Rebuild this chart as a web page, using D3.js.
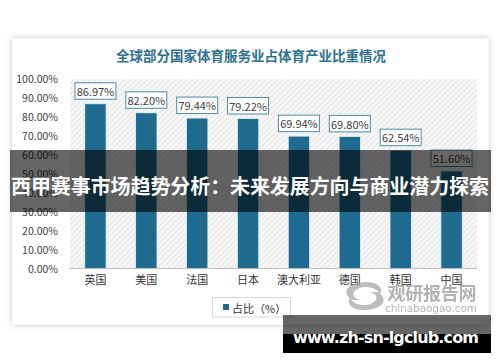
<!DOCTYPE html>
<html><head><meta charset="utf-8">
<script src="https://cdn.jsdelivr.net/npm/d3@7"></script>
<style>html,body{margin:0;padding:0;background:#fff;}svg{display:block;}</style>
</head><body>
<script>
const categories = ["英国","美国","法国","日本","澳大利亚","德国","韩国","中国"];
const values = [86.97, 82.20, 79.44, 79.22, 69.94, 69.80, 62.54, 51.60];
const yTicks = [0,10,20,30,40,50,60,70,80,90,100];
const title = "全球部分国家体育服务业占体育产业比重情况";
const legendLabel = "占比（%）";
const overlayText = "西甲赛事市场趋势分析：未来发展方向与商业潜力探索";
const siteText = "www.zh-sn-lgclub.com";

const W = 500, H = 362;
const font = "'Noto Sans CJK SC','Noto Sans',sans-serif";
const svg = d3.select("body").append("svg").attr("width", W).attr("height", H);
const defs = svg.append("defs");

const f = defs.append("filter").attr("id","shadow").attr("x","-10%").attr("y","-10%").attr("width","120%").attr("height","120%");
f.append("feDropShadow").attr("dx",0).attr("dy",0).attr("stdDeviation",3).attr("flood-color","#000").attr("flood-opacity",0.25);

const pat = defs.append("pattern").attr("id","hatch").attr("patternUnits","userSpaceOnUse")
  .attr("width",4).attr("height",4).attr("patternTransform","rotate(45)");
pat.append("rect").attr("width",4).attr("height",4).attr("fill","#f7f7f7");
pat.append("line").attr("x1",0).attr("y1",0).attr("x2",0).attr("y2",4).attr("stroke","#dedede").attr("stroke-width",1.5);

// card
svg.append("rect").attr("x",12.5).attr("y",38.5).attr("width",476).attr("height",286)
  .attr("fill","#fff").attr("filter","url(#shadow)");

svg.append("text").attr("x",251).attr("y",55).attr("text-anchor","middle").attr("dominant-baseline","central")
  .attr("font-family",font).attr("font-size",13.5).attr("font-weight","bold").attr("fill","#2f7191").text(title);

const x = d3.scaleBand().domain(categories).range([70,477]).paddingInner(0.58).paddingOuter(0.29);
const y = d3.scaleLinear().domain([0,100]).range([269,79]);

svg.append("rect").attr("x",70).attr("y",y(100)).attr("width",407).attr("height",y(0)-y(100)).attr("fill","url(#hatch)");

// y axis
const yAxis = svg.append("g").attr("transform","translate(60,0)")
  .call(d3.axisLeft(y).tickValues(yTicks).tickSize(0).tickPadding(2).tickFormat(d => d3.format(".2f")(d)+"%"));
yAxis.select(".domain").remove();
yAxis.selectAll("text").attr("font-family",font).attr("font-size",10.5).attr("fill","#404040");

// bars
svg.append("g").selectAll("rect").data(values).join("rect")
  .attr("x",(d,i)=>x(categories[i])).attr("y",d=>y(d))
  .attr("width",x.bandwidth()).attr("height",d=>y(0)-y(d))
  .attr("fill","#1e6b8f").attr("stroke","#e9f1f5").attr("stroke-width",0.8);

// x axis
const xAxis = svg.append("g").attr("transform","translate(0,268.5)")
  .call(d3.axisBottom(x).tickSize(0).tickPadding(8));
xAxis.select(".domain").attr("stroke","#bfbfbf").attr("d","M70,0H477");
xAxis.selectAll("text").attr("font-family",font).attr("font-size",11).attr("fill","#333");

// labels
const lg = svg.append("g").selectAll("g").data(values).join("g")
  .attr("transform",(d,i)=>`translate(${x(categories[i])+x.bandwidth()/2},${y(d)-4.5})`);
lg.append("rect").attr("x",-20.5).attr("y",-16.5).attr("width",41).attr("height",16.5)
  .attr("fill","#fff").attr("stroke","#4f8aa6").attr("stroke-width",1);
lg.append("text").attr("y",-8.2).attr("text-anchor","middle").attr("dominant-baseline","central")
  .attr("font-family",font).attr("font-size",11).attr("fill","#404040").text(d=>d3.format(".2f")(d)+"%");

// legend
svg.append("rect").attr("x",212.5).attr("y",297.5).attr("width",78).attr("height",19.5).attr("fill","#fff").attr("stroke","#d9d9d9");
svg.append("rect").attr("x",223).attr("y",304).attr("width",6).attr("height",6).attr("fill","#1e6b8f");
svg.append("text").attr("x",232).attr("y",307.5).attr("dominant-baseline","central")
  .attr("font-family",font).attr("font-size",11).attr("fill","#333").text(legendLabel);

// watermark logo
const wm = svg.append("g").attr("opacity",0.75);
wm.append("path").attr("d","M352,300 C340,292 348,282 366,282 C378,282 384,288 380,294 C376,286 360,284 354,292 C352,296 356,300 362,300 Z").attr("fill","#a8a8a8");
wm.append("path").attr("d","M378,292 C390,300 382,310 364,310 C352,310 346,304 350,298 C354,306 370,308 376,300 C378,296 374,292 368,292 Z").attr("fill","#a8a8a8");
wm.append("text").attr("x",432).attr("y",291.5).attr("text-anchor","middle").attr("dominant-baseline","central")
  .attr("font-family",font).attr("font-size",18).attr("font-weight","bold").attr("fill","#999").attr("textLength",89).text("观研报告网");
wm.append("text").attr("x",431).attr("y",308).attr("text-anchor","middle").attr("dominant-baseline","central")
  .attr("font-family","'DejaVu Sans',sans-serif").attr("font-size",10.5).attr("fill","#999").attr("textLength",92).text("chinabaogao.com");

// overlay band
svg.append("rect").attr("x",10).attr("y",150).attr("width",481).attr("height",62).attr("fill","rgba(0,0,0,0.6)");
svg.append("text").attr("x",250).attr("y",185).attr("text-anchor","middle").attr("dominant-baseline","central")
  .attr("font-family",font).attr("font-size",20).attr("font-weight","bold").attr("fill","#fff")
  .attr("textLength",478).text(overlayText);

// site box
svg.append("rect").attr("x",283).attr("y",315).attr("width",208).attr("height",19).attr("fill","rgba(0,0,0,0.6)");
svg.append("rect").attr("x",283).attr("y",334).attr("width",208).attr("height",19).attr("fill","#000");
svg.append("text").attr("x",386).attr("y",337.5).attr("text-anchor","middle").attr("dominant-baseline","central")
  .attr("font-family","'DejaVu Sans',sans-serif").attr("font-size",16).attr("font-weight","bold").attr("fill","#fff")
  .attr("textLength",186).text(siteText);
</script>
</body></html>
